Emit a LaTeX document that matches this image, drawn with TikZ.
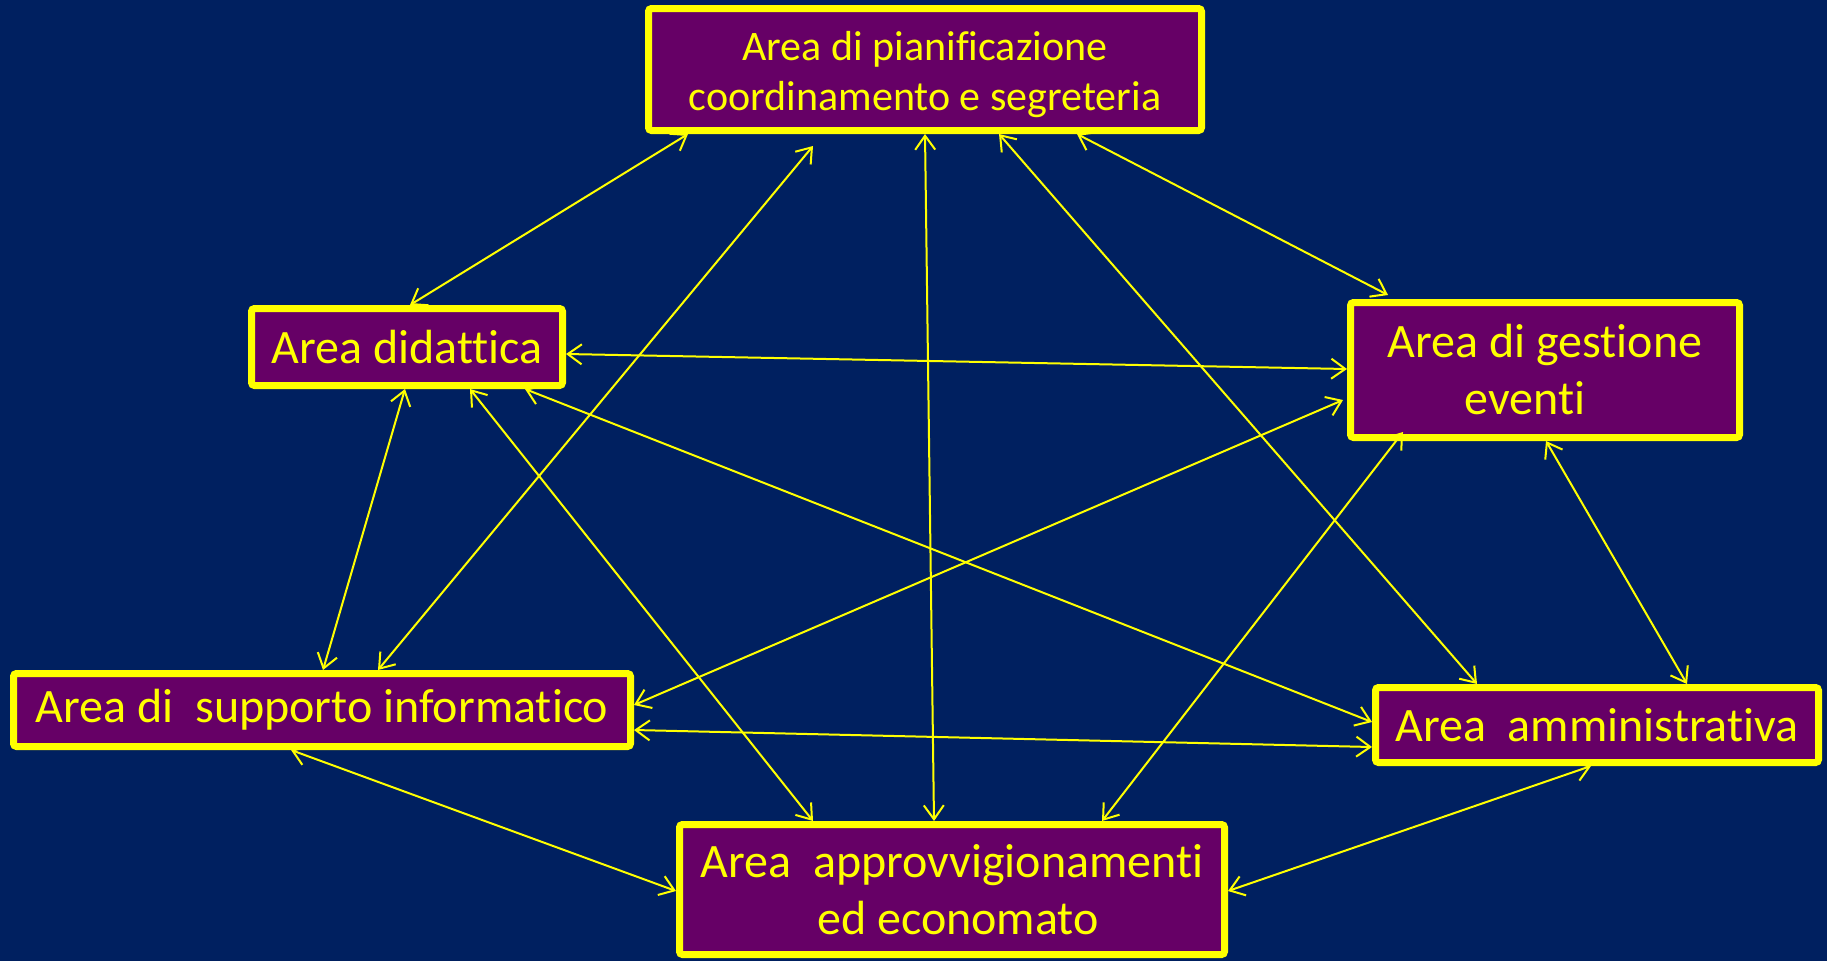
\documentclass[tikz,border=0pt]{standalone}
\usepackage{fontspec}
\setmainfont{Carlito}[Ligatures={NoCommon}]
\usetikzlibrary{arrows.meta}
\definecolor{fondo}{RGB}{0,32,96}
\definecolor{viola}{RGB}{102,0,102}
\definecolor{giallo}{RGB}{255,255,0}
\tikzset{
  area/.style={draw=giallo, fill=viola, line width=7pt, rounded corners=3pt,
    text=giallo, align=center, inner sep=0pt,
    font=\fontsize{48}{57}\selectfont},
  link/.style={giallo, line width=2pt,
    {Straight Barb[length=14pt,width=20pt]}-{Straight Barb[length=14pt,width=20pt]}}
}
\begin{document}
\begin{tikzpicture}[x=1pt,y=-1pt]
		\fill[fondo](0,0) rectangle(1827,961);
		\useasboundingbox(0,0) rectangle(1827,961);
		%Aree
		\node[area, minimum width=553pt, minimum height=122pt, font=\fontsize{42}{50}\selectfont] (pian) at (925,69.5) {\raisebox{-5pt}[\height][\depth]{Area di pianificazione}\\ \raisebox{-5pt}[\height][\depth]{coordinamento e segreteria}};
		\node[area, minimum width=311pt, minimum height=77pt] (did) at (407,347) {Area didattica};
		\node[area, minimum width=389pt, minimum height=135pt] (even) at (1545,370) {Area di gestione\\eventi\hspace*{40pt}};
		\node[area, minimum width=617pt, minimum height=73pt] (info) at (322,710) {Area di\ \ supporto informatico};
		\node[area, minimum width=443pt, minimum height=75pt] (amm) at (1597,725) {Area\ \ amministrativa};
		\node[area, minimum width=545pt, minimum height=130pt] (econ) at (952,889.5) {Area\ \ approvvigionamenti\\\hspace*{12pt}ed economato};
		%Collegamenti
		\draw[link]([xshift=43pt]pian.south west) -- ([xshift=162pt]did.north west);
		\draw[link]([xshift=168pt,yshift=-12pt]pian.south west) -- ([xshift=368pt]info.north west);
		\draw[link](pian.south) -- ([xshift=-18pt]econ.north);
		\draw[link]([xshift=74pt]pian.south) -- ([xshift=105pt]amm.north west);
		\draw[link]([xshift=152pt]pian.south) -- ([xshift=41pt,yshift=4pt]even.north west);
		\draw[link]([yshift=-49pt]did.north east) -- ([yshift=-70pt]even.north west);
		\draw[link]([xshift=157pt]did.south west) -- ([xshift=313pt]info.north west);
		\draw[link]([xshift=222pt]did.south west) -- ([xshift=137pt]econ.north west);
		\draw[link]([xshift=-41pt]did.south east) -- ([yshift=-38pt]amm.north west);
		\draw[link]([xshift=-4pt,yshift=-101pt]even.north west) -- ([yshift=-35pt]info.north east);
		\draw[link]([xshift=56pt,yshift=9pt]even.south west) -- ([xshift=426pt]econ.north west);
		\draw[link]([xshift=1pt]even.south) -- ([xshift=-135pt]amm.north east);
		\draw[link]([yshift=-60pt]info.north east) -- ([yshift=-63pt]amm.north west);
		\draw[link]([xshift=281pt]info.south west) -- ([yshift=-70pt]econ.north west);
		\draw[link]([xshift=219pt]amm.south west) -- ([yshift=-70pt]econ.north east);
	\end{tikzpicture}
\end{document}
